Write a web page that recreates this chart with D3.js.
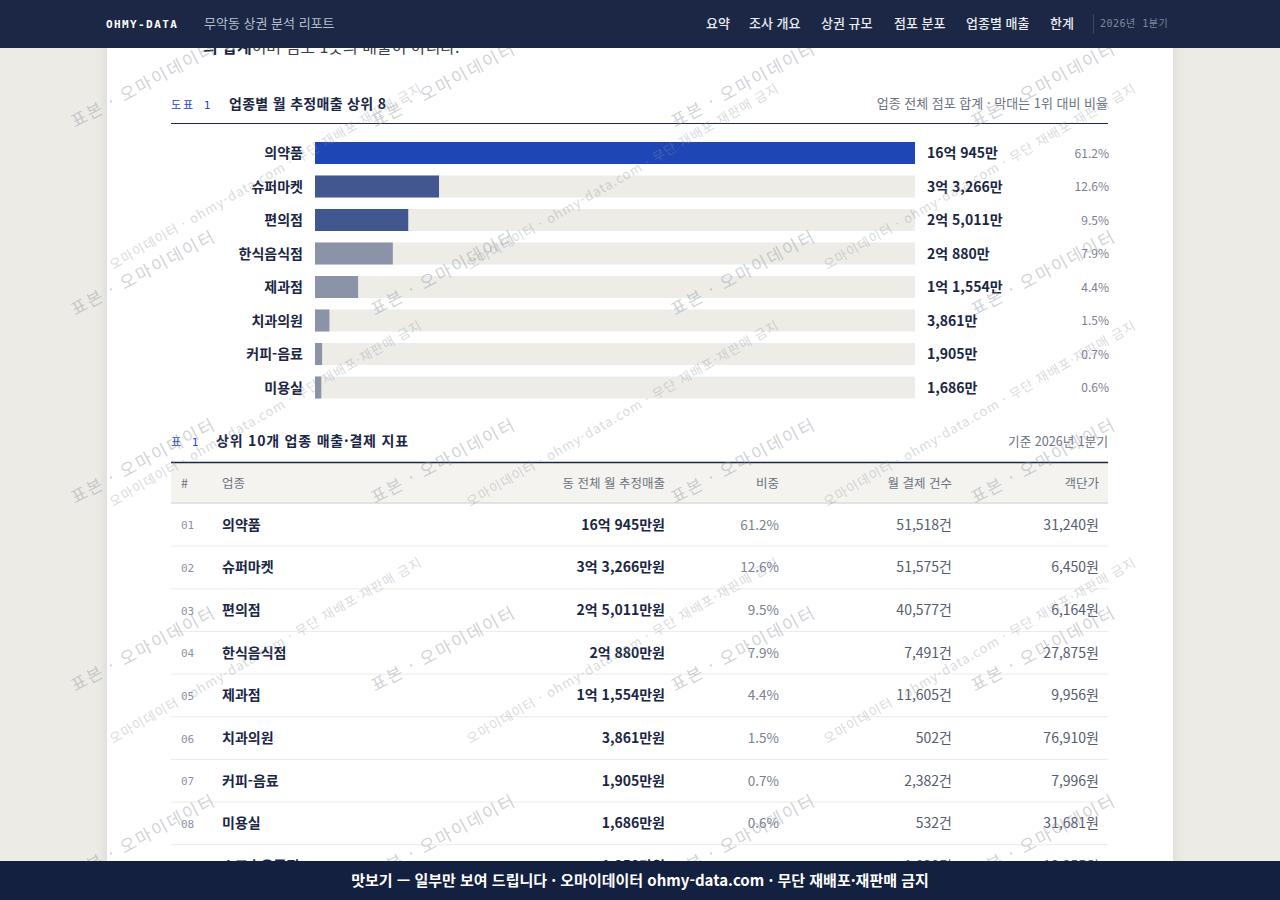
<!DOCTYPE html>
<html lang="ko">
<head>
<meta charset="utf-8">
<script src="https://cdn.jsdelivr.net/npm/d3@7/dist/d3.min.js"></script>
<style>
  html, body { margin: 0; padding: 0; background: #edebe6; }
  svg { display: block; }
  text { font-family: "Noto Sans CJK KR", "Noto Sans", sans-serif; }
  .mono { font-family: "DejaVu Sans Mono", "Noto Sans CJK KR", monospace; }
</style>
</head>
<body>
<svg id="chart" width="1280" height="900"></svg>
<script>
// ---------- data ----------
const navItems = ["요약", "조사 개요", "상권 규모", "점포 분포", "업종별 매출", "한계"];
const navX = [706, 749, 821, 894, 966, 1050];

const barCategories = ["의약품", "슈퍼마켓", "편의점", "한식음식점", "제과점", "치과의원", "커피-음료", "미용실"];
const barValuesMan = [160945, 33266, 25011, 20880, 11554, 3861, 1905, 1686];   // 단위: 만원
const barShares = [61.2, 12.6, 9.5, 7.9, 4.4, 1.5, 0.7, 0.6];
const barTier = [0, 1, 1, 2, 2, 2, 2, 2];

const tableColumns = ["#", "업종", "동 전체 월 추정매출", "비중", "월 결제 건수", "객단가"];
const tableNames = ["의약품", "슈퍼마켓", "편의점", "한식음식점", "제과점", "치과의원", "커피-음료", "미용실", "스포츠용품점"];
const tableSalesMan = [160945, 33266, 25011, 20880, 11554, 3861, 1905, 1686, 1250];
const tableShares = [61.2, 12.6, 9.5, 7.9, 4.4, 1.5, 0.7, 0.6, 0.5];
const tableCounts = [51518, 51575, 40577, 7491, 11605, 502, 2382, 532, 1020];
const tablePrices = [31240, 6450, 6164, 27875, 9956, 76910, 7996, 31681, 12255];

const wmA = "표본 · 오마이데이터";
const wmB = "오마이데이터 · ohmy-data.com · 무단 재배포·재판매 금지";

// ---------- helpers ----------
const fmt = d3.format(",");
function korMoney(man) {
  const eok = Math.floor(man / 10000);
  const rest = man % 10000;
  if (eok > 0) return eok + "억 " + fmt(rest) + "만";
  return fmt(rest) + "만";
}

const svg = d3.select("#chart");
const defs = svg.append("defs");
const sh = defs.append("filter").attr("id", "shadow").attr("x", "-5%").attr("y", "-5%").attr("width", "110%").attr("height", "110%");
sh.append("feDropShadow").attr("dx", 0).attr("dy", 0).attr("stdDeviation", 6).attr("flood-color", "#000").attr("flood-opacity", 0.10);

// page background + card
svg.append("rect").attr("width", 1280).attr("height", 900).attr("fill", "#edebe6");
svg.append("rect").attr("x", 107).attr("y", -20).attr("width", 1066).attr("height", 960)
  .attr("fill", "#ffffff").attr("filter", "url(#shadow)");

// partially hidden intro sentence
const intro = svg.append("text").attr("x", 203).attr("y", 53).attr("font-size", 16).attr("fill", "#3a3f4b");
intro.append("tspan").attr("font-weight", 700).attr("fill", "#1b2744").text("의 합계");
intro.append("tspan").text("이며 점포 1곳의 매출이 아니다.");

// ---------- figure 1: bars ----------
const L = 171, R = 1108;
svg.append("text").attr("class", "mono").attr("x", L).attr("y", 109).attr("font-size", 11)
  .attr("letter-spacing", 2).attr("fill", "#2447c4").text("도표 1");
svg.append("text").attr("x", 229).attr("y", 109).attr("font-size", 14).attr("font-weight", 700)
  .attr("letter-spacing", 0.3).attr("fill", "#1b2744").text("업종별 월 추정매출 상위 8");
svg.append("text").attr("x", R).attr("y", 108).attr("font-size", 13).attr("text-anchor", "end")
  .attr("fill", "#6b7280").text("업종 전체 점포 합계 · 막대는 1위 대비 비율");
svg.append("line").attr("x1", L).attr("x2", R).attr("y1", 123.5).attr("y2", 123.5)
  .attr("stroke", "#1b2744").attr("stroke-width", 1.2);

const x = d3.scaleLinear().domain([0, d3.max(barValuesMan)]).range([315, 915]);
const y = d3.scaleBand().domain(barCategories).range([136.25, 404.25]).paddingInner(0.343).paddingOuter(0.1715);
const tierColor = ["#1e47b5", "#42578f", "#8a93a7"];

const rows = svg.append("g").selectAll("g").data(barCategories).join("g");
rows.append("rect").attr("x", x(0)).attr("y", d => y(d)).attr("width", x.range()[1] - x(0))
  .attr("height", y.bandwidth()).attr("fill", "#eeece6");
rows.append("rect").attr("x", x(0)).attr("y", d => y(d))
  .attr("width", (d, i) => x(barValuesMan[i]) - x(0))
  .attr("height", y.bandwidth()).attr("fill", (d, i) => tierColor[barTier[i]]);
rows.append("text").attr("x", 303).attr("y", d => y(d) + y.bandwidth() / 2 + 5)
  .attr("text-anchor", "end").attr("font-size", 14).attr("font-weight", 700).attr("fill", "#1b2744").text(d => d);
rows.append("text").attr("x", 927).attr("y", d => y(d) + y.bandwidth() / 2 + 5)
  .attr("font-size", 14).attr("font-weight", 700).attr("fill", "#1b2744").text((d, i) => korMoney(barValuesMan[i]));
rows.append("text").attr("x", R + 1).attr("y", d => y(d) + y.bandwidth() / 2 + 4.5)
  .attr("text-anchor", "end").attr("font-size", 12).attr("fill", "#7b8191").text((d, i) => barShares[i].toFixed(1) + "%");

// ---------- table 1 ----------
svg.append("text").attr("class", "mono").attr("x", L).attr("y", 446).attr("font-size", 11)
  .attr("letter-spacing", 2).attr("fill", "#2447c4").text("표 1");
svg.append("text").attr("x", 216).attr("y", 446).attr("font-size", 14).attr("font-weight", 700)
  .attr("letter-spacing", 0.8).attr("fill", "#1b2744").text("상위 10개 업종 매출·결제 지표");
svg.append("text").attr("x", R).attr("y", 446).attr("font-size", 12.6).attr("text-anchor", "end")
  .attr("fill", "#6b7280").text("기준 2026년 1분기");

svg.append("rect").attr("x", L).attr("y", 463).attr("width", R - L).attr("height", 40).attr("fill", "#f4f3ef");
svg.append("line").attr("x1", L).attr("x2", R).attr("y1", 462.5).attr("y2", 462.5).attr("stroke", "#1b2744").attr("stroke-width", 1.3);
svg.append("line").attr("x1", L).attr("x2", R).attr("y1", 503).attr("y2", 503).attr("stroke", "#dddbd3").attr("stroke-width", 1.5);

const colX = [181, 222, 665, 779, 952, 1099];
const colAnchor = ["start", "start", "end", "end", "end", "end"];
svg.append("g").selectAll("text").data(tableColumns).join("text")
  .attr("x", (d, i) => colX[i]).attr("y", 488).attr("text-anchor", (d, i) => colAnchor[i])
  .attr("font-size", 12.5).attr("fill", "#6b7280").text(d => d);

const ty = d3.scaleBand().domain(d3.range(tableNames.length)).range([503.5, 503.5 + 42.65 * tableNames.length]);
const trows = svg.append("g").selectAll("g").data(tableNames).join("g")
  .attr("transform", (d, i) => `translate(0,${ty(i)})`);
trows.append("line").attr("x1", L).attr("x2", R).attr("y1", ty.bandwidth()).attr("y2", ty.bandwidth())
  .attr("stroke", "#ecebe6").attr("stroke-width", 1);
const by = ty.bandwidth() / 2 + 5;
trows.append("text").attr("class", "mono").attr("x", colX[0]).attr("y", by - 0.5).attr("font-size", 11)
  .attr("fill", "#8b92a3").text((d, i) => String(i + 1).padStart(2, "0"));
trows.append("text").attr("x", colX[1]).attr("y", by).attr("font-size", 14).attr("font-weight", 700)
  .attr("fill", "#1b2744").text(d => d);
trows.append("text").attr("x", colX[2]).attr("y", by).attr("text-anchor", "end").attr("font-size", 14).attr("font-weight", 700)
  .attr("fill", "#1b2744").text((d, i) => korMoney(tableSalesMan[i]) + "원");
trows.append("text").attr("x", colX[3]).attr("y", by).attr("text-anchor", "end").attr("font-size", 13.5)
  .attr("fill", "#7b8191").text((d, i) => tableShares[i].toFixed(1) + "%");
trows.append("text").attr("x", colX[4]).attr("y", by).attr("text-anchor", "end").attr("font-size", 14)
  .attr("fill", "#555d6e").text((d, i) => fmt(tableCounts[i]) + "건");
trows.append("text").attr("x", colX[5]).attr("y", by).attr("text-anchor", "end").attr("font-size", 14)
  .attr("fill", "#555d6e").text((d, i) => fmt(tablePrices[i]) + "원");

// ---------- watermarks ----------
const wm = svg.append("g").attr("pointer-events", "none");
const gridA = [];
for (let i = 0; i < 4; i++) for (let j = 0; j < 5; j++) gridA.push([75 + 300 * i, 128 + 188 * j]);
wm.selectAll("text.a").data(gridA).join("text").attr("class", "a")
  .attr("transform", d => `translate(${d[0]},${d[1]}) rotate(-28)`)
  .attr("font-size", 17).attr("letter-spacing", 2).attr("fill", "#8d939e").attr("fill-opacity", 0.42).text(wmA);
const gridB = [];
for (let i = 0; i < 3; i++) for (let j = 0; j < 3; j++) gridB.push([113 + 357 * i, 270 + 237 * j]);
wm.selectAll("text.b").data(gridB).join("text").attr("class", "b")
  .attr("transform", d => `translate(${d[0]},${d[1]}) rotate(-30)`)
  .attr("font-size", 13).attr("letter-spacing", 1).attr("fill", "#8d939e").attr("fill-opacity", 0.36).text(wmB);

// ---------- header ----------
svg.append("rect").attr("width", 1280).attr("height", 48).attr("fill", "#1b2744");
svg.append("text").attr("class", "mono").attr("x", 106).attr("y", 28).attr("font-size", 11).attr("font-weight", 700)
  .attr("letter-spacing", 1.4).attr("fill", "#ffffff").text("OHMY-DATA");
svg.append("text").attr("x", 204).attr("y", 28).attr("font-size", 13).attr("fill", "#b7bfcf").text("무악동 상권 분석 리포트");
svg.append("g").selectAll("text").data(navItems).join("text")
  .attr("x", (d, i) => navX[i]).attr("y", 28).attr("font-size", 13).attr("font-weight", 500)
  .attr("fill", "#e9ecf2").text(d => d);
svg.append("line").attr("x1", 1093.5).attr("x2", 1093.5).attr("y1", 14).attr("y2", 34).attr("stroke", "#3c4866");
svg.append("text").attr("class", "mono").attr("x", 1100).attr("y", 27).attr("font-size", 10)
  .attr("letter-spacing", 0.5).attr("fill", "#7f889c").text("2026년 1분기");

// ---------- footer ----------
svg.append("rect").attr("y", 861).attr("width", 1280).attr("height", 39).attr("fill", "#13203f");
svg.append("text").attr("x", 640).attr("y", 886).attr("text-anchor", "middle").attr("font-size", 15).attr("font-weight", 700)
  .attr("fill", "#ffffff").text("맛보기 — 일부만 보여 드립니다 · 오마이데이터 ohmy-data.com · 무단 재배포·재판매 금지");
</script>
</body>
</html>
